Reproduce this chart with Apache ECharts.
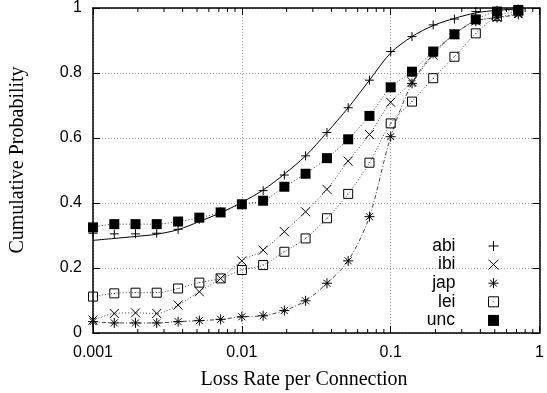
<!DOCTYPE html>
<html>
<head>
<meta charset="utf-8">
<script src="https://cdn.jsdelivr.net/npm/echarts@6/dist/echarts.min.js"></script>
<style>
  html, body { margin: 0; padding: 0; background: #fff; }
  #chart { width: 547px; height: 393px; }
</style>
</head>
<body>
<div id="chart"></div>
<script>
// Loss-rate sample points (log-spaced, seven per decade)
const lossRates = [0.001, 0.00139, 0.00193, 0.00268, 0.00373, 0.00518, 0.0072,
                   0.01, 0.0139, 0.0193, 0.0268, 0.0373, 0.0518, 0.072,
                   0.1, 0.139, 0.193, 0.268, 0.373, 0.518, 0.72];

// Cumulative probability per trace
const abi = [0.307, 0.305, 0.305, 0.307, 0.319, 0.350, 0.373, 0.397, 0.438, 0.486, 0.545,
             0.617, 0.693, 0.778, 0.866, 0.912, 0.948, 0.966, 0.989, 0.993, 0.997];
const abiCurve = [0.285, 0.291, 0.297, 0.304, 0.318, 0.343, 0.370, 0.402, 0.440, 0.489, 0.545,
                  0.617, 0.693, 0.778, 0.862, 0.912, 0.946, 0.968, 0.985, 0.993, 0.997];
const ibi = [0.040, 0.060, 0.062, 0.060, 0.086, 0.127, 0.168, 0.222, 0.255, 0.312, 0.373,
             0.442, 0.529, 0.611, 0.710, 0.773, 0.855, 0.920, 0.960, 0.971, 0.983];
const jap = [0.035, 0.031, 0.031, 0.031, 0.035, 0.038, 0.042, 0.050, 0.053, 0.069, 0.099,
             0.153, 0.222, 0.358, 0.604, 0.768, 0.860, 0.920, 0.960, 0.970, 0.980];
const lei = [0.112, 0.122, 0.124, 0.124, 0.137, 0.155, 0.168, 0.194, 0.209, 0.250, 0.291,
             0.353, 0.428, 0.524, 0.645, 0.712, 0.784, 0.850, 0.922, 0.975, 0.990];
const unc = [0.325, 0.335, 0.335, 0.335, 0.343, 0.355, 0.371, 0.396, 0.407, 0.450, 0.490,
             0.538, 0.596, 0.668, 0.756, 0.804, 0.866, 0.919, 0.965, 0.989, 0.994];

const seriesNames = ['abi', 'ibi', 'jap', 'lei', 'unc'];
const xTickLabels = ['0.001', '0.01', '0.1', '1'];
const yTickLabels = ['0', '0.2', '0.4', '0.6', '0.8', '1'];
const minorTicks = [0.002, 0.003, 0.004, 0.005, 0.006, 0.007, 0.008, 0.009,
                    0.02, 0.03, 0.04, 0.05, 0.06, 0.07, 0.08, 0.09,
                    0.2, 0.3, 0.4, 0.5, 0.6, 0.7, 0.8, 0.9];

const SANS = '"Liberation Sans", Arial, Helvetica, sans-serif';
const SERIF = '"Liberation Serif", "Times New Roman", serif';

const SYM = {
  abi: 'path://M5 0L5 10M0 5L10 5',
  ibi: 'path://M0 0L10 10M10 0L0 10',
  jap: 'path://M5 0L5 10M0 5L10 5M1.5 1.5L8.5 8.5M8.5 1.5L1.5 8.5',
  lei: 'path://M0 0L10 0L10 10L0 10ZM4.6 4.6L5.4 5.4',
  unc: 'rect'
};

const pair = (ys) => lossRates.map((x, i) => [x, ys[i]]);
const strokeMark = { color: 'rgba(0,0,0,0)', borderColor: '#000', borderWidth: 1 };

function markerSeries(name, ys, size, dash, itemStyle) {
  return {
    name: name,
    type: 'line',
    data: pair(ys),
    smooth: 0.3,
    symbol: SYM[name],
    symbolSize: size,
    showAllSymbol: true,
    itemStyle: itemStyle,
    lineStyle: dash ? { color: '#444', width: 1, type: dash } : { width: 0, opacity: 0 },
    emphasis: { disabled: true },
    z: 3
  };
}

const series = [
  {
    name: 'abi-curve',
    type: 'line',
    data: pair(abiCurve),
    smooth: 0.3,
    symbol: 'none',
    lineStyle: { color: '#000', width: 1 },
    emphasis: { disabled: true },
    z: 2
  },
  markerSeries('abi', abi, 9, null, strokeMark),
  markerSeries('ibi', ibi, 9, [1, 2], strokeMark),
  markerSeries('jap', jap, 10, [4, 2, 1, 2], strokeMark),
  markerSeries('lei', lei, 9, [1, 2], strokeMark),
  markerSeries('unc', unc, 10, [1, 2], { color: '#000', borderWidth: 0 }),
  {
    // minor ticks of the log axis at 2..9 within each decade, bottom and top
    type: 'custom',
    silent: true,
    clip: false,
    data: minorTicks.map(v => [v, 0]),
    encode: { x: 0, y: 1 },
    renderItem: function (params, api) {
      const b = api.coord([api.value(0), 0]);
      const t = api.coord([api.value(0), 1]);
      const st = { stroke: '#000', lineWidth: 1 };
      return {
        type: 'group',
        children: [
          { type: 'line', shape: { x1: b[0], y1: b[1], x2: b[0], y2: b[1] - 4 }, style: st },
          { type: 'line', shape: { x1: t[0], y1: t[1], x2: t[0], y2: t[1] + 4 }, style: st }
        ]
      };
    },
    z: 5
  }
];

const legendRows = [237, 255.6, 274.2, 292.8, 311.4];
const legends = seriesNames.map((n, i) => ({
  data: [{ name: n, icon: SYM[n] }],
  orient: 'vertical',
  align: 'right',
  right: 48,
  top: legendRows[i],
  padding: 0,
  itemWidth: n === 'unc' ? 11 : 10,
  itemHeight: n === 'unc' ? 11 : 10,
  selectedMode: false,
  itemStyle: n === 'unc' ? { color: '#000', borderWidth: 0 }
                         : { color: 'rgba(0,0,0,0)', borderColor: '#000', borderWidth: 1 },
  textStyle: { fontFamily: SANS, fontSize: 17.5, color: '#000', padding: [0, 28, 0, 0] }
}));

const frameLine = { show: true, onZero: false, lineStyle: { color: '#000', width: 1.5 } };
const gridDots = { show: true, lineStyle: { color: '#999', width: 1, type: [1, 2] } };

const option = {
  animation: false,
  backgroundColor: '#fff',
  grid: { left: 93, right: 4, top: 8, bottom: 60 },
  legend: legends,
  xAxis: [
    {
      type: 'log', logBase: 10, min: 0.001, max: 1, position: 'bottom',
      axisLine: frameLine,
      axisTick: { show: true, inside: true, length: 7, lineStyle: { color: '#000' } },
      axisLabel: {
        margin: 12, fontFamily: SANS, fontSize: 16, color: '#000',
        formatter: (v, idx) => xTickLabels[idx]
      },
      splitLine: gridDots
    },
    {
      type: 'log', logBase: 10, min: 0.001, max: 1, position: 'top',
      axisLine: frameLine,
      axisTick: { show: true, inside: true, length: 7, lineStyle: { color: '#000' } },
      axisLabel: { show: false },
      splitLine: { show: false }
    }
  ],
  yAxis: [
    {
      type: 'value', min: 0, max: 1, interval: 0.2, position: 'left',
      axisLine: frameLine,
      axisTick: { show: true, inside: true, length: 7, lineStyle: { color: '#000' } },
      axisLabel: {
        margin: 11, fontFamily: SANS, fontSize: 16, color: '#000',
        formatter: (v, idx) => yTickLabels[idx]
      },
      splitLine: gridDots
    },
    {
      type: 'value', min: 0, max: 1, interval: 0.2, position: 'right',
      axisLine: frameLine,
      axisTick: { show: true, inside: true, length: 7, lineStyle: { color: '#000' } },
      axisLabel: { show: false },
      splitLine: { show: false }
    }
  ],
  graphic: [
    {
      type: 'text', x: 304, y: 380,
      style: { text: 'Loss Rate per Connection', fontFamily: SERIF, fontSize: 20,
               fill: '#000', align: 'center', verticalAlign: 'middle' }
    },
    {
      type: 'text', x: 18, y: 160, rotation: Math.PI / 2,
      style: { text: 'Cumulative Probability', fontFamily: SERIF, fontSize: 20,
               fill: '#000', align: 'center', verticalAlign: 'middle' }
    }
  ],
  series: series
};

const chart = echarts.init(document.getElementById('chart'), null, { renderer: 'canvas' });
chart.setOption(option);
</script>
</body>
</html>
